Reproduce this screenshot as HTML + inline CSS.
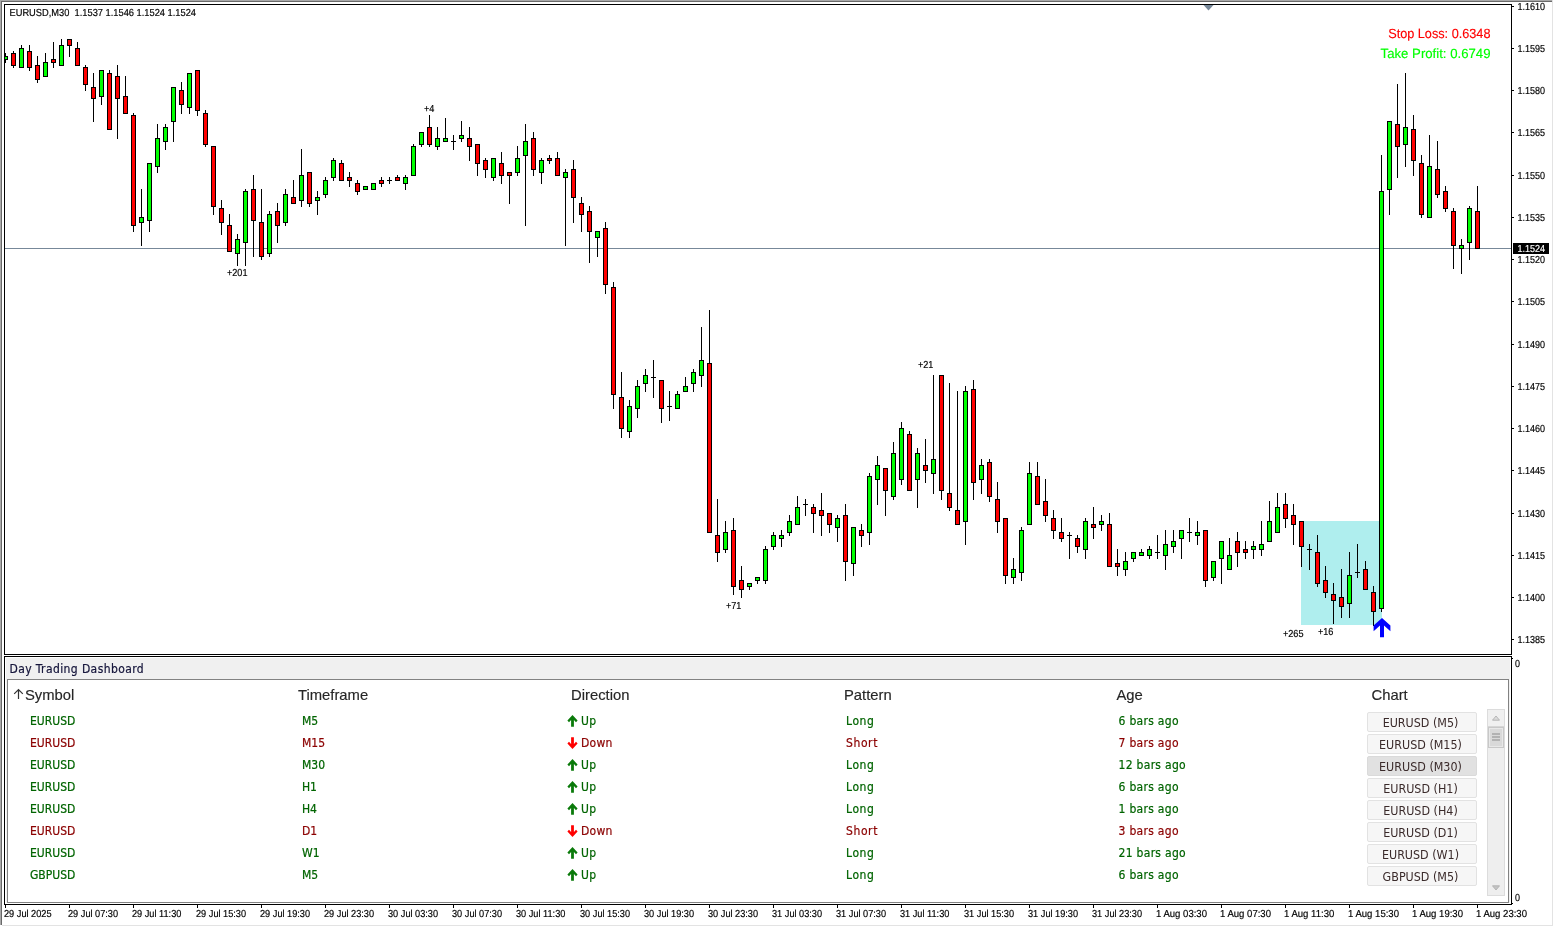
<!DOCTYPE html><html><head><meta charset="utf-8"><title>EURUSD,M30 - Day Trading Dashboard</title><style>
html,body{margin:0;padding:0;background:#fff;}
body{width:1554px;height:927px;position:relative;overflow:hidden;font-family:"Liberation Sans",Arial,sans-serif;}
.title{position:absolute;left:9.5px;top:660px;letter-spacing:0.4px;font:12px/18px "DejaVu Sans Condensed","Liberation Sans",sans-serif;color:#14143a;white-space:nowrap;-webkit-text-stroke:0.2px currentColor;}
.hd{position:absolute;top:685px;font:14.8px/20px "Liberation Sans",Arial,sans-serif;color:#262626;white-space:nowrap;-webkit-text-stroke:0.15px currentColor;}
.sortarrow{position:absolute;left:13px;top:688px;}
.row{position:absolute;left:0;height:20px;width:1360px;font:12px/20px "DejaVu Sans Condensed","Liberation Sans",sans-serif;white-space:nowrap;}
.row span{position:absolute;top:-1.5px;-webkit-text-stroke:0.2px currentColor;}
.row.g{color:#006400}.row.r{color:#8b0000}
.ar{position:absolute;left:0;top:4px}
.btn{position:absolute;left:1367px;width:110px;height:20px;border:1px solid #e2e2e2;border-radius:2px;background:#f6f6f6;box-sizing:border-box;padding-right:3px;
 font:12.4px/20px "DejaVu Sans Condensed","Liberation Sans",sans-serif;color:#3a2a2a;text-align:center;white-space:nowrap;}
.btn.sel{background:#e1e1e1;border-color:#dadada}
.sb{position:absolute;left:1487px;top:709px;width:16px;height:185px;background:#eeeeee;border:1px solid #dcdcdc;box-sizing:content-box}
.sbu{position:absolute;left:0;top:0;width:16px;height:16px;background:#f0f0f0;border-bottom:1px solid #d6d6d6}
.sbd{position:absolute;left:0;bottom:0;width:16px;height:16px;}
.sbu svg,.sbd svg{position:absolute;left:4px;top:5px}
.sbd svg{top:6px}
.sbt{position:absolute;left:0px;top:17px;width:14px;height:19px;background:#d9d9d9;border:1px solid #c8c8c8;box-shadow:inset 0 0 0 1px #e8e8e8}
.sbt i{display:block;margin:1px 3px 0 3px;height:2px;background:#b2b2b2;}
.sbt i:first-child{margin-top:5px}
</style></head><body><svg width="1554" height="927" viewBox="0 0 1554 927" shape-rendering="crispEdges" style="position:absolute;left:0;top:0"><rect x="0" y="0" width="1554" height="927" fill="#fff"/><rect x="0" y="0" width="1552" height="1" fill="#a9a9a9"/><rect x="0" y="1" width="1552" height="1" fill="#696969"/><rect x="0" y="0" width="1" height="925" fill="#a9a9a9"/><rect x="1" y="1" width="1" height="924" fill="#696969"/><rect x="1552" y="0" width="1" height="925" fill="#e3e3e3"/><rect x="2" y="925" width="1551" height="1" fill="#e3e3e3"/><rect x="1301" y="521" width="81" height="104" fill="#afeeee"/><rect x="5" y="248" width="1506" height="1" fill="#778899"/><rect x="5" y="53" width="1" height="10" fill="#000"/><rect x="3" y="56" width="5" height="4" fill="#000"/><rect x="4" y="57" width="3" height="2" fill="#00ff00"/><rect x="13" y="51" width="1" height="17" fill="#000"/><rect x="11" y="53" width="5" height="13" fill="#000"/><rect x="12" y="54" width="3" height="11" fill="#ff0000"/><rect x="21" y="45" width="1" height="23" fill="#000"/><rect x="19" y="48" width="5" height="20" fill="#000"/><rect x="20" y="49" width="3" height="18" fill="#00ff00"/><rect x="29" y="45" width="1" height="26" fill="#000"/><rect x="27" y="51" width="5" height="17" fill="#000"/><rect x="28" y="52" width="3" height="15" fill="#ff0000"/><rect x="37" y="56" width="1" height="27" fill="#000"/><rect x="35" y="65" width="5" height="15" fill="#000"/><rect x="36" y="66" width="3" height="13" fill="#ff0000"/><rect x="45" y="53" width="1" height="24" fill="#000"/><rect x="43" y="62" width="5" height="15" fill="#000"/><rect x="44" y="63" width="3" height="13" fill="#00ff00"/><rect x="53" y="42" width="1" height="26" fill="#000"/><rect x="51" y="59" width="5" height="4" fill="#000"/><rect x="52" y="60" width="3" height="2" fill="#ff0000"/><rect x="61" y="39" width="1" height="27" fill="#000"/><rect x="59" y="45" width="5" height="21" fill="#000"/><rect x="60" y="46" width="3" height="19" fill="#00ff00"/><rect x="69" y="39" width="1" height="18" fill="#000"/><rect x="67" y="39" width="5" height="7" fill="#000"/><rect x="68" y="40" width="3" height="5" fill="#ff0000"/><rect x="77" y="42" width="1" height="24" fill="#000"/><rect x="75" y="48" width="5" height="18" fill="#000"/><rect x="76" y="49" width="3" height="16" fill="#ff0000"/><rect x="85" y="65" width="1" height="26" fill="#000"/><rect x="83" y="67" width="5" height="18" fill="#000"/><rect x="84" y="68" width="3" height="16" fill="#ff0000"/><rect x="93" y="73" width="1" height="49" fill="#000"/><rect x="91" y="87" width="5" height="12" fill="#000"/><rect x="92" y="88" width="3" height="10" fill="#ff0000"/><rect x="101" y="70" width="1" height="35" fill="#000"/><rect x="99" y="70" width="5" height="27" fill="#000"/><rect x="100" y="71" width="3" height="25" fill="#00ff00"/><rect x="109" y="70" width="1" height="60" fill="#000"/><rect x="107" y="73" width="5" height="57" fill="#000"/><rect x="108" y="74" width="3" height="55" fill="#ff0000"/><rect x="117" y="65" width="1" height="74" fill="#000"/><rect x="115" y="76" width="5" height="23" fill="#000"/><rect x="116" y="77" width="3" height="21" fill="#ff0000"/><rect x="125" y="76" width="1" height="38" fill="#000"/><rect x="123" y="96" width="5" height="18" fill="#000"/><rect x="124" y="97" width="3" height="16" fill="#ff0000"/><rect x="133" y="113" width="1" height="119" fill="#000"/><rect x="131" y="115" width="5" height="111" fill="#000"/><rect x="132" y="116" width="3" height="109" fill="#ff0000"/><rect x="141" y="189" width="1" height="57" fill="#000"/><rect x="139" y="217" width="5" height="6" fill="#000"/><rect x="140" y="218" width="3" height="4" fill="#00ff00"/><rect x="149" y="163" width="1" height="69" fill="#000"/><rect x="147" y="163" width="5" height="58" fill="#000"/><rect x="148" y="164" width="3" height="56" fill="#00ff00"/><rect x="157" y="124" width="1" height="49" fill="#000"/><rect x="155" y="138" width="5" height="29" fill="#000"/><rect x="156" y="139" width="3" height="27" fill="#00ff00"/><rect x="165" y="124" width="1" height="26" fill="#000"/><rect x="163" y="127" width="5" height="15" fill="#000"/><rect x="164" y="128" width="3" height="13" fill="#00ff00"/><rect x="173" y="87" width="1" height="55" fill="#000"/><rect x="171" y="87" width="5" height="35" fill="#000"/><rect x="172" y="88" width="3" height="33" fill="#00ff00"/><rect x="181" y="82" width="1" height="32" fill="#000"/><rect x="179" y="90" width="5" height="15" fill="#000"/><rect x="180" y="91" width="3" height="13" fill="#ff0000"/><rect x="189" y="73" width="1" height="41" fill="#000"/><rect x="187" y="73" width="5" height="35" fill="#000"/><rect x="188" y="74" width="3" height="33" fill="#00ff00"/><rect x="197" y="70" width="1" height="46" fill="#000"/><rect x="195" y="70" width="5" height="41" fill="#000"/><rect x="196" y="71" width="3" height="39" fill="#ff0000"/><rect x="205" y="110" width="1" height="37" fill="#000"/><rect x="203" y="113" width="5" height="32" fill="#000"/><rect x="204" y="114" width="3" height="30" fill="#ff0000"/><rect x="213" y="146" width="1" height="69" fill="#000"/><rect x="211" y="146" width="5" height="61" fill="#000"/><rect x="212" y="147" width="3" height="59" fill="#ff0000"/><rect x="221" y="200" width="1" height="35" fill="#000"/><rect x="219" y="208" width="5" height="15" fill="#000"/><rect x="220" y="209" width="3" height="13" fill="#ff0000"/><rect x="229" y="214" width="1" height="38" fill="#000"/><rect x="227" y="225" width="5" height="27" fill="#000"/><rect x="228" y="226" width="3" height="25" fill="#ff0000"/><rect x="237" y="234" width="1" height="32" fill="#000"/><rect x="235" y="239" width="5" height="15" fill="#000"/><rect x="236" y="240" width="3" height="13" fill="#00ff00"/><rect x="245" y="189" width="1" height="77" fill="#000"/><rect x="243" y="191" width="5" height="52" fill="#000"/><rect x="244" y="192" width="3" height="50" fill="#00ff00"/><rect x="253" y="175" width="1" height="82" fill="#000"/><rect x="251" y="189" width="5" height="32" fill="#000"/><rect x="252" y="190" width="3" height="30" fill="#ff0000"/><rect x="261" y="189" width="1" height="71" fill="#000"/><rect x="259" y="222" width="5" height="35" fill="#000"/><rect x="260" y="223" width="3" height="33" fill="#ff0000"/><rect x="269" y="211" width="1" height="46" fill="#000"/><rect x="267" y="214" width="5" height="40" fill="#000"/><rect x="268" y="215" width="3" height="38" fill="#00ff00"/><rect x="277" y="203" width="1" height="40" fill="#000"/><rect x="275" y="211" width="5" height="15" fill="#000"/><rect x="276" y="212" width="3" height="13" fill="#ff0000"/><rect x="285" y="189" width="1" height="37" fill="#000"/><rect x="283" y="194" width="5" height="29" fill="#000"/><rect x="284" y="195" width="3" height="27" fill="#00ff00"/><rect x="293" y="180" width="1" height="24" fill="#000"/><rect x="291" y="197" width="5" height="7" fill="#000"/><rect x="292" y="198" width="3" height="5" fill="#ff0000"/><rect x="301" y="149" width="1" height="58" fill="#000"/><rect x="299" y="175" width="5" height="26" fill="#000"/><rect x="300" y="176" width="3" height="24" fill="#00ff00"/><rect x="309" y="172" width="1" height="35" fill="#000"/><rect x="307" y="172" width="5" height="32" fill="#000"/><rect x="308" y="173" width="3" height="30" fill="#ff0000"/><rect x="317" y="191" width="1" height="24" fill="#000"/><rect x="315" y="197" width="5" height="4" fill="#000"/><rect x="316" y="198" width="3" height="2" fill="#00ff00"/><rect x="325" y="177" width="1" height="21" fill="#000"/><rect x="323" y="180" width="5" height="15" fill="#000"/><rect x="324" y="181" width="3" height="13" fill="#00ff00"/><rect x="333" y="158" width="1" height="23" fill="#000"/><rect x="331" y="160" width="5" height="18" fill="#000"/><rect x="332" y="161" width="3" height="16" fill="#00ff00"/><rect x="341" y="160" width="1" height="21" fill="#000"/><rect x="339" y="163" width="5" height="18" fill="#000"/><rect x="340" y="164" width="3" height="16" fill="#ff0000"/><rect x="349" y="172" width="1" height="15" fill="#000"/><rect x="347" y="177" width="5" height="4" fill="#000"/><rect x="348" y="178" width="3" height="2" fill="#ff0000"/><rect x="357" y="180" width="1" height="15" fill="#000"/><rect x="355" y="183" width="5" height="9" fill="#000"/><rect x="356" y="184" width="3" height="7" fill="#ff0000"/><rect x="365" y="186" width="1" height="4" fill="#000"/><rect x="363" y="186" width="5" height="4" fill="#000"/><rect x="364" y="187" width="3" height="2" fill="#00ff00"/><rect x="373" y="183" width="1" height="7" fill="#000"/><rect x="371" y="183" width="5" height="7" fill="#000"/><rect x="372" y="184" width="3" height="5" fill="#00ff00"/><rect x="381" y="177" width="1" height="10" fill="#000"/><rect x="379" y="180" width="5" height="4" fill="#000"/><rect x="380" y="181" width="3" height="2" fill="#ff0000"/><rect x="389" y="177" width="1" height="7" fill="#000"/><rect x="387" y="180" width="5" height="1" fill="#000"/><rect x="397" y="175" width="1" height="6" fill="#000"/><rect x="395" y="177" width="5" height="4" fill="#000"/><rect x="396" y="178" width="3" height="2" fill="#ff0000"/><rect x="405" y="175" width="1" height="15" fill="#000"/><rect x="403" y="177" width="5" height="7" fill="#000"/><rect x="404" y="178" width="3" height="5" fill="#00ff00"/><rect x="413" y="144" width="1" height="32" fill="#000"/><rect x="411" y="146" width="5" height="30" fill="#000"/><rect x="412" y="147" width="3" height="28" fill="#00ff00"/><rect x="421" y="132" width="1" height="15" fill="#000"/><rect x="419" y="132" width="5" height="13" fill="#000"/><rect x="420" y="133" width="3" height="11" fill="#00ff00"/><rect x="429" y="115" width="1" height="32" fill="#000"/><rect x="427" y="127" width="5" height="18" fill="#000"/><rect x="428" y="128" width="3" height="16" fill="#ff0000"/><rect x="437" y="127" width="1" height="23" fill="#000"/><rect x="435" y="138" width="5" height="9" fill="#000"/><rect x="436" y="139" width="3" height="7" fill="#00ff00"/><rect x="445" y="118" width="1" height="24" fill="#000"/><rect x="443" y="138" width="5" height="4" fill="#000"/><rect x="444" y="139" width="3" height="2" fill="#00ff00"/><rect x="453" y="135" width="1" height="15" fill="#000"/><rect x="451" y="141" width="5" height="1" fill="#000"/><rect x="461" y="121" width="1" height="21" fill="#000"/><rect x="459" y="135" width="5" height="4" fill="#000"/><rect x="460" y="136" width="3" height="2" fill="#00ff00"/><rect x="469" y="127" width="1" height="34" fill="#000"/><rect x="467" y="138" width="5" height="9" fill="#000"/><rect x="468" y="139" width="3" height="7" fill="#ff0000"/><rect x="477" y="144" width="1" height="32" fill="#000"/><rect x="475" y="144" width="5" height="20" fill="#000"/><rect x="476" y="145" width="3" height="18" fill="#ff0000"/><rect x="485" y="158" width="1" height="20" fill="#000"/><rect x="483" y="160" width="5" height="10" fill="#000"/><rect x="484" y="161" width="3" height="8" fill="#ff0000"/><rect x="493" y="158" width="1" height="23" fill="#000"/><rect x="491" y="158" width="5" height="20" fill="#000"/><rect x="492" y="159" width="3" height="18" fill="#00ff00"/><rect x="501" y="152" width="1" height="32" fill="#000"/><rect x="499" y="163" width="5" height="13" fill="#000"/><rect x="500" y="164" width="3" height="11" fill="#ff0000"/><rect x="509" y="172" width="1" height="32" fill="#000"/><rect x="507" y="172" width="5" height="4" fill="#000"/><rect x="508" y="173" width="3" height="2" fill="#ff0000"/><rect x="517" y="146" width="1" height="30" fill="#000"/><rect x="515" y="158" width="5" height="15" fill="#000"/><rect x="516" y="159" width="3" height="13" fill="#00ff00"/><rect x="525" y="124" width="1" height="102" fill="#000"/><rect x="523" y="141" width="5" height="15" fill="#000"/><rect x="524" y="142" width="3" height="13" fill="#00ff00"/><rect x="533" y="132" width="1" height="44" fill="#000"/><rect x="531" y="138" width="5" height="32" fill="#000"/><rect x="532" y="139" width="3" height="30" fill="#ff0000"/><rect x="541" y="158" width="1" height="26" fill="#000"/><rect x="539" y="160" width="5" height="13" fill="#000"/><rect x="540" y="161" width="3" height="11" fill="#00ff00"/><rect x="549" y="155" width="1" height="9" fill="#000"/><rect x="547" y="158" width="5" height="3" fill="#000"/><rect x="548" y="159" width="3" height="1" fill="#ff0000"/><rect x="557" y="152" width="1" height="24" fill="#000"/><rect x="555" y="158" width="5" height="18" fill="#000"/><rect x="556" y="159" width="3" height="16" fill="#ff0000"/><rect x="565" y="169" width="1" height="77" fill="#000"/><rect x="563" y="172" width="5" height="6" fill="#000"/><rect x="564" y="173" width="3" height="4" fill="#00ff00"/><rect x="573" y="160" width="1" height="63" fill="#000"/><rect x="571" y="169" width="5" height="29" fill="#000"/><rect x="572" y="170" width="3" height="27" fill="#ff0000"/><rect x="581" y="197" width="1" height="35" fill="#000"/><rect x="579" y="203" width="5" height="12" fill="#000"/><rect x="580" y="204" width="3" height="10" fill="#ff0000"/><rect x="589" y="206" width="1" height="57" fill="#000"/><rect x="587" y="211" width="5" height="21" fill="#000"/><rect x="588" y="212" width="3" height="19" fill="#ff0000"/><rect x="597" y="231" width="1" height="26" fill="#000"/><rect x="595" y="231" width="5" height="7" fill="#000"/><rect x="596" y="232" width="3" height="5" fill="#00ff00"/><rect x="605" y="222" width="1" height="72" fill="#000"/><rect x="603" y="228" width="5" height="57" fill="#000"/><rect x="604" y="229" width="3" height="55" fill="#ff0000"/><rect x="613" y="282" width="1" height="127" fill="#000"/><rect x="611" y="287" width="5" height="108" fill="#000"/><rect x="612" y="288" width="3" height="106" fill="#ff0000"/><rect x="621" y="372" width="1" height="66" fill="#000"/><rect x="619" y="397" width="5" height="32" fill="#000"/><rect x="620" y="398" width="3" height="30" fill="#ff0000"/><rect x="629" y="400" width="1" height="38" fill="#000"/><rect x="627" y="406" width="5" height="26" fill="#000"/><rect x="628" y="407" width="3" height="24" fill="#00ff00"/><rect x="637" y="380" width="1" height="38" fill="#000"/><rect x="635" y="386" width="5" height="23" fill="#000"/><rect x="636" y="387" width="3" height="21" fill="#00ff00"/><rect x="645" y="369" width="1" height="23" fill="#000"/><rect x="643" y="375" width="5" height="9" fill="#000"/><rect x="644" y="376" width="3" height="7" fill="#00ff00"/><rect x="653" y="360" width="1" height="38" fill="#000"/><rect x="651" y="377" width="5" height="1" fill="#000"/><rect x="661" y="380" width="1" height="43" fill="#000"/><rect x="659" y="380" width="5" height="29" fill="#000"/><rect x="660" y="381" width="3" height="27" fill="#ff0000"/><rect x="669" y="391" width="1" height="30" fill="#000"/><rect x="667" y="406" width="5" height="1" fill="#000"/><rect x="677" y="391" width="1" height="18" fill="#000"/><rect x="675" y="394" width="5" height="15" fill="#000"/><rect x="676" y="395" width="3" height="13" fill="#00ff00"/><rect x="685" y="377" width="1" height="15" fill="#000"/><rect x="683" y="386" width="5" height="6" fill="#000"/><rect x="684" y="387" width="3" height="4" fill="#00ff00"/><rect x="693" y="369" width="1" height="23" fill="#000"/><rect x="691" y="372" width="5" height="12" fill="#000"/><rect x="692" y="373" width="3" height="10" fill="#00ff00"/><rect x="701" y="327" width="1" height="60" fill="#000"/><rect x="699" y="360" width="5" height="16" fill="#000"/><rect x="700" y="361" width="3" height="14" fill="#00ff00"/><rect x="709" y="310" width="1" height="223" fill="#000"/><rect x="707" y="363" width="5" height="170" fill="#000"/><rect x="708" y="364" width="3" height="168" fill="#ff0000"/><rect x="717" y="499" width="1" height="63" fill="#000"/><rect x="715" y="535" width="5" height="18" fill="#000"/><rect x="716" y="536" width="3" height="16" fill="#ff0000"/><rect x="725" y="521" width="1" height="32" fill="#000"/><rect x="723" y="532" width="5" height="18" fill="#000"/><rect x="724" y="533" width="3" height="16" fill="#00ff00"/><rect x="733" y="518" width="1" height="77" fill="#000"/><rect x="731" y="530" width="5" height="57" fill="#000"/><rect x="732" y="531" width="3" height="55" fill="#ff0000"/><rect x="741" y="566" width="1" height="32" fill="#000"/><rect x="739" y="580" width="5" height="10" fill="#000"/><rect x="740" y="581" width="3" height="8" fill="#ff0000"/><rect x="749" y="583" width="1" height="7" fill="#000"/><rect x="747" y="583" width="5" height="4" fill="#000"/><rect x="748" y="584" width="3" height="2" fill="#00ff00"/><rect x="757" y="577" width="1" height="7" fill="#000"/><rect x="755" y="577" width="5" height="4" fill="#000"/><rect x="756" y="578" width="3" height="2" fill="#00ff00"/><rect x="765" y="546" width="1" height="38" fill="#000"/><rect x="763" y="549" width="5" height="32" fill="#000"/><rect x="764" y="550" width="3" height="30" fill="#00ff00"/><rect x="773" y="532" width="1" height="18" fill="#000"/><rect x="771" y="535" width="5" height="12" fill="#000"/><rect x="772" y="536" width="3" height="10" fill="#00ff00"/><rect x="781" y="530" width="1" height="17" fill="#000"/><rect x="779" y="535" width="5" height="4" fill="#000"/><rect x="780" y="536" width="3" height="2" fill="#00ff00"/><rect x="789" y="515" width="1" height="21" fill="#000"/><rect x="787" y="521" width="5" height="12" fill="#000"/><rect x="788" y="522" width="3" height="10" fill="#00ff00"/><rect x="797" y="496" width="1" height="29" fill="#000"/><rect x="795" y="507" width="5" height="18" fill="#000"/><rect x="796" y="508" width="3" height="16" fill="#00ff00"/><rect x="805" y="499" width="1" height="17" fill="#000"/><rect x="803" y="504" width="5" height="1" fill="#000"/><rect x="813" y="504" width="1" height="29" fill="#000"/><rect x="811" y="507" width="5" height="7" fill="#000"/><rect x="812" y="508" width="3" height="5" fill="#ff0000"/><rect x="821" y="493" width="1" height="43" fill="#000"/><rect x="819" y="510" width="5" height="6" fill="#000"/><rect x="820" y="511" width="3" height="4" fill="#ff0000"/><rect x="829" y="513" width="1" height="20" fill="#000"/><rect x="827" y="513" width="5" height="12" fill="#000"/><rect x="828" y="514" width="3" height="10" fill="#ff0000"/><rect x="837" y="515" width="1" height="27" fill="#000"/><rect x="835" y="518" width="5" height="10" fill="#000"/><rect x="836" y="519" width="3" height="8" fill="#00ff00"/><rect x="845" y="504" width="1" height="77" fill="#000"/><rect x="843" y="515" width="5" height="47" fill="#000"/><rect x="844" y="516" width="3" height="45" fill="#ff0000"/><rect x="853" y="527" width="1" height="49" fill="#000"/><rect x="851" y="527" width="5" height="37" fill="#000"/><rect x="852" y="528" width="3" height="35" fill="#00ff00"/><rect x="861" y="524" width="1" height="23" fill="#000"/><rect x="859" y="530" width="5" height="6" fill="#000"/><rect x="860" y="531" width="3" height="4" fill="#ff0000"/><rect x="869" y="473" width="1" height="72" fill="#000"/><rect x="867" y="476" width="5" height="57" fill="#000"/><rect x="868" y="477" width="3" height="55" fill="#00ff00"/><rect x="877" y="456" width="1" height="49" fill="#000"/><rect x="875" y="465" width="5" height="15" fill="#000"/><rect x="876" y="466" width="3" height="13" fill="#00ff00"/><rect x="885" y="468" width="1" height="48" fill="#000"/><rect x="883" y="468" width="5" height="23" fill="#000"/><rect x="884" y="469" width="3" height="21" fill="#ff0000"/><rect x="893" y="442" width="1" height="58" fill="#000"/><rect x="891" y="453" width="5" height="44" fill="#000"/><rect x="892" y="454" width="3" height="42" fill="#00ff00"/><rect x="901" y="422" width="1" height="63" fill="#000"/><rect x="899" y="428" width="5" height="52" fill="#000"/><rect x="900" y="429" width="3" height="50" fill="#00ff00"/><rect x="909" y="431" width="1" height="60" fill="#000"/><rect x="907" y="434" width="5" height="57" fill="#000"/><rect x="908" y="435" width="3" height="55" fill="#ff0000"/><rect x="917" y="448" width="1" height="60" fill="#000"/><rect x="915" y="453" width="5" height="27" fill="#000"/><rect x="916" y="454" width="3" height="25" fill="#00ff00"/><rect x="925" y="439" width="1" height="44" fill="#000"/><rect x="923" y="465" width="5" height="6" fill="#000"/><rect x="924" y="466" width="3" height="4" fill="#ff0000"/><rect x="933" y="375" width="1" height="119" fill="#000"/><rect x="931" y="459" width="5" height="15" fill="#000"/><rect x="932" y="460" width="3" height="13" fill="#00ff00"/><rect x="941" y="375" width="1" height="125" fill="#000"/><rect x="939" y="375" width="5" height="116" fill="#000"/><rect x="940" y="376" width="3" height="114" fill="#ff0000"/><rect x="949" y="383" width="1" height="128" fill="#000"/><rect x="947" y="493" width="5" height="15" fill="#000"/><rect x="948" y="494" width="3" height="13" fill="#ff0000"/><rect x="957" y="391" width="1" height="134" fill="#000"/><rect x="955" y="510" width="5" height="15" fill="#000"/><rect x="956" y="511" width="3" height="13" fill="#ff0000"/><rect x="965" y="386" width="1" height="159" fill="#000"/><rect x="963" y="391" width="5" height="131" fill="#000"/><rect x="964" y="392" width="3" height="129" fill="#00ff00"/><rect x="973" y="380" width="1" height="120" fill="#000"/><rect x="971" y="389" width="5" height="94" fill="#000"/><rect x="972" y="390" width="3" height="92" fill="#ff0000"/><rect x="981" y="459" width="1" height="35" fill="#000"/><rect x="979" y="465" width="5" height="15" fill="#000"/><rect x="980" y="466" width="3" height="13" fill="#00ff00"/><rect x="989" y="459" width="1" height="43" fill="#000"/><rect x="987" y="462" width="5" height="35" fill="#000"/><rect x="988" y="463" width="3" height="33" fill="#ff0000"/><rect x="997" y="482" width="1" height="51" fill="#000"/><rect x="995" y="499" width="5" height="23" fill="#000"/><rect x="996" y="500" width="3" height="21" fill="#ff0000"/><rect x="1005" y="518" width="1" height="66" fill="#000"/><rect x="1003" y="518" width="5" height="58" fill="#000"/><rect x="1004" y="519" width="3" height="56" fill="#ff0000"/><rect x="1013" y="558" width="1" height="26" fill="#000"/><rect x="1011" y="569" width="5" height="9" fill="#000"/><rect x="1012" y="570" width="3" height="7" fill="#00ff00"/><rect x="1021" y="527" width="1" height="54" fill="#000"/><rect x="1019" y="530" width="5" height="43" fill="#000"/><rect x="1020" y="531" width="3" height="41" fill="#00ff00"/><rect x="1029" y="462" width="1" height="63" fill="#000"/><rect x="1027" y="473" width="5" height="52" fill="#000"/><rect x="1028" y="474" width="3" height="50" fill="#00ff00"/><rect x="1037" y="462" width="1" height="43" fill="#000"/><rect x="1035" y="476" width="5" height="29" fill="#000"/><rect x="1036" y="477" width="3" height="27" fill="#ff0000"/><rect x="1045" y="479" width="1" height="43" fill="#000"/><rect x="1043" y="501" width="5" height="15" fill="#000"/><rect x="1044" y="502" width="3" height="13" fill="#ff0000"/><rect x="1053" y="510" width="1" height="29" fill="#000"/><rect x="1051" y="518" width="5" height="13" fill="#000"/><rect x="1052" y="519" width="3" height="11" fill="#ff0000"/><rect x="1061" y="518" width="1" height="24" fill="#000"/><rect x="1059" y="532" width="5" height="7" fill="#000"/><rect x="1060" y="533" width="3" height="5" fill="#ff0000"/><rect x="1069" y="532" width="1" height="27" fill="#000"/><rect x="1067" y="535" width="5" height="1" fill="#000"/><rect x="1077" y="535" width="1" height="18" fill="#000"/><rect x="1075" y="538" width="5" height="9" fill="#000"/><rect x="1076" y="539" width="3" height="7" fill="#ff0000"/><rect x="1085" y="518" width="1" height="41" fill="#000"/><rect x="1083" y="521" width="5" height="29" fill="#000"/><rect x="1084" y="522" width="3" height="27" fill="#00ff00"/><rect x="1093" y="507" width="1" height="32" fill="#000"/><rect x="1091" y="524" width="5" height="4" fill="#000"/><rect x="1092" y="525" width="3" height="2" fill="#ff0000"/><rect x="1101" y="515" width="1" height="16" fill="#000"/><rect x="1099" y="521" width="5" height="4" fill="#000"/><rect x="1100" y="522" width="3" height="2" fill="#00ff00"/><rect x="1109" y="513" width="1" height="54" fill="#000"/><rect x="1107" y="524" width="5" height="43" fill="#000"/><rect x="1108" y="525" width="3" height="41" fill="#ff0000"/><rect x="1117" y="549" width="1" height="27" fill="#000"/><rect x="1115" y="563" width="5" height="4" fill="#000"/><rect x="1116" y="564" width="3" height="2" fill="#ff0000"/><rect x="1125" y="552" width="1" height="24" fill="#000"/><rect x="1123" y="561" width="5" height="9" fill="#000"/><rect x="1124" y="562" width="3" height="7" fill="#00ff00"/><rect x="1133" y="552" width="1" height="10" fill="#000"/><rect x="1131" y="552" width="5" height="7" fill="#000"/><rect x="1132" y="553" width="3" height="5" fill="#00ff00"/><rect x="1141" y="549" width="1" height="7" fill="#000"/><rect x="1139" y="552" width="5" height="4" fill="#000"/><rect x="1140" y="553" width="3" height="2" fill="#00ff00"/><rect x="1149" y="546" width="1" height="13" fill="#000"/><rect x="1147" y="549" width="5" height="7" fill="#000"/><rect x="1148" y="550" width="3" height="5" fill="#00ff00"/><rect x="1157" y="535" width="1" height="24" fill="#000"/><rect x="1155" y="552" width="5" height="1" fill="#000"/><rect x="1165" y="530" width="1" height="40" fill="#000"/><rect x="1163" y="544" width="5" height="12" fill="#000"/><rect x="1164" y="545" width="3" height="10" fill="#00ff00"/><rect x="1173" y="530" width="1" height="23" fill="#000"/><rect x="1171" y="541" width="5" height="6" fill="#000"/><rect x="1172" y="542" width="3" height="4" fill="#00ff00"/><rect x="1181" y="530" width="1" height="29" fill="#000"/><rect x="1179" y="530" width="5" height="9" fill="#000"/><rect x="1180" y="531" width="3" height="7" fill="#00ff00"/><rect x="1189" y="518" width="1" height="24" fill="#000"/><rect x="1187" y="532" width="5" height="1" fill="#000"/><rect x="1197" y="521" width="1" height="24" fill="#000"/><rect x="1195" y="532" width="5" height="4" fill="#000"/><rect x="1196" y="533" width="3" height="2" fill="#00ff00"/><rect x="1205" y="530" width="1" height="57" fill="#000"/><rect x="1203" y="530" width="5" height="51" fill="#000"/><rect x="1204" y="531" width="3" height="49" fill="#ff0000"/><rect x="1213" y="561" width="1" height="20" fill="#000"/><rect x="1211" y="561" width="5" height="17" fill="#000"/><rect x="1212" y="562" width="3" height="15" fill="#00ff00"/><rect x="1221" y="541" width="1" height="43" fill="#000"/><rect x="1219" y="541" width="5" height="18" fill="#000"/><rect x="1220" y="542" width="3" height="16" fill="#00ff00"/><rect x="1229" y="538" width="1" height="32" fill="#000"/><rect x="1227" y="555" width="5" height="15" fill="#000"/><rect x="1228" y="556" width="3" height="13" fill="#00ff00"/><rect x="1237" y="532" width="1" height="35" fill="#000"/><rect x="1235" y="541" width="5" height="12" fill="#000"/><rect x="1236" y="542" width="3" height="10" fill="#ff0000"/><rect x="1245" y="541" width="1" height="18" fill="#000"/><rect x="1243" y="549" width="5" height="4" fill="#000"/><rect x="1244" y="550" width="3" height="2" fill="#ff0000"/><rect x="1253" y="541" width="1" height="18" fill="#000"/><rect x="1251" y="546" width="5" height="4" fill="#000"/><rect x="1252" y="547" width="3" height="2" fill="#00ff00"/><rect x="1261" y="521" width="1" height="35" fill="#000"/><rect x="1259" y="544" width="5" height="6" fill="#000"/><rect x="1260" y="545" width="3" height="4" fill="#00ff00"/><rect x="1269" y="501" width="1" height="41" fill="#000"/><rect x="1267" y="521" width="5" height="21" fill="#000"/><rect x="1268" y="522" width="3" height="19" fill="#00ff00"/><rect x="1277" y="493" width="1" height="40" fill="#000"/><rect x="1275" y="507" width="5" height="26" fill="#000"/><rect x="1276" y="508" width="3" height="24" fill="#00ff00"/><rect x="1285" y="493" width="1" height="35" fill="#000"/><rect x="1283" y="504" width="5" height="15" fill="#000"/><rect x="1284" y="505" width="3" height="13" fill="#ff0000"/><rect x="1293" y="504" width="1" height="41" fill="#000"/><rect x="1291" y="515" width="5" height="10" fill="#000"/><rect x="1292" y="516" width="3" height="8" fill="#ff0000"/><rect x="1301" y="521" width="1" height="46" fill="#000"/><rect x="1299" y="521" width="5" height="26" fill="#000"/><rect x="1300" y="522" width="3" height="24" fill="#ff0000"/><rect x="1309" y="544" width="1" height="26" fill="#000"/><rect x="1307" y="549" width="5" height="1" fill="#000"/><rect x="1317" y="535" width="1" height="52" fill="#000"/><rect x="1315" y="552" width="5" height="32" fill="#000"/><rect x="1316" y="553" width="3" height="30" fill="#ff0000"/><rect x="1325" y="566" width="1" height="32" fill="#000"/><rect x="1323" y="580" width="5" height="13" fill="#000"/><rect x="1324" y="581" width="3" height="11" fill="#ff0000"/><rect x="1333" y="583" width="1" height="41" fill="#000"/><rect x="1331" y="594" width="5" height="7" fill="#000"/><rect x="1332" y="595" width="3" height="5" fill="#ff0000"/><rect x="1341" y="569" width="1" height="49" fill="#000"/><rect x="1339" y="597" width="5" height="10" fill="#000"/><rect x="1340" y="598" width="3" height="8" fill="#ff0000"/><rect x="1349" y="552" width="1" height="66" fill="#000"/><rect x="1347" y="575" width="5" height="29" fill="#000"/><rect x="1348" y="576" width="3" height="27" fill="#00ff00"/><rect x="1357" y="544" width="1" height="34" fill="#000"/><rect x="1355" y="572" width="5" height="1" fill="#000"/><rect x="1365" y="561" width="1" height="29" fill="#000"/><rect x="1363" y="569" width="5" height="21" fill="#000"/><rect x="1364" y="570" width="3" height="19" fill="#ff0000"/><rect x="1373" y="586" width="1" height="40" fill="#000"/><rect x="1371" y="592" width="5" height="20" fill="#000"/><rect x="1372" y="593" width="3" height="18" fill="#ff0000"/><rect x="1381" y="155" width="1" height="457" fill="#000"/><rect x="1379" y="191" width="5" height="418" fill="#000"/><rect x="1380" y="192" width="3" height="416" fill="#00ff00"/><rect x="1389" y="121" width="1" height="94" fill="#000"/><rect x="1387" y="121" width="5" height="69" fill="#000"/><rect x="1388" y="122" width="3" height="67" fill="#00ff00"/><rect x="1397" y="84" width="1" height="94" fill="#000"/><rect x="1395" y="124" width="5" height="23" fill="#000"/><rect x="1396" y="125" width="3" height="21" fill="#ff0000"/><rect x="1405" y="73" width="1" height="94" fill="#000"/><rect x="1403" y="127" width="5" height="18" fill="#000"/><rect x="1404" y="128" width="3" height="16" fill="#00ff00"/><rect x="1413" y="115" width="1" height="61" fill="#000"/><rect x="1411" y="129" width="5" height="32" fill="#000"/><rect x="1412" y="130" width="3" height="30" fill="#ff0000"/><rect x="1421" y="155" width="1" height="63" fill="#000"/><rect x="1419" y="163" width="5" height="52" fill="#000"/><rect x="1420" y="164" width="3" height="50" fill="#ff0000"/><rect x="1429" y="135" width="1" height="83" fill="#000"/><rect x="1427" y="166" width="5" height="52" fill="#000"/><rect x="1428" y="167" width="3" height="50" fill="#00ff00"/><rect x="1437" y="141" width="1" height="57" fill="#000"/><rect x="1435" y="169" width="5" height="26" fill="#000"/><rect x="1436" y="170" width="3" height="24" fill="#ff0000"/><rect x="1445" y="186" width="1" height="26" fill="#000"/><rect x="1443" y="191" width="5" height="18" fill="#000"/><rect x="1444" y="192" width="3" height="16" fill="#ff0000"/><rect x="1453" y="208" width="1" height="61" fill="#000"/><rect x="1451" y="211" width="5" height="35" fill="#000"/><rect x="1452" y="212" width="3" height="33" fill="#ff0000"/><rect x="1461" y="239" width="1" height="35" fill="#000"/><rect x="1459" y="245" width="5" height="4" fill="#000"/><rect x="1460" y="246" width="3" height="2" fill="#00ff00"/><rect x="1469" y="206" width="1" height="54" fill="#000"/><rect x="1467" y="208" width="5" height="35" fill="#000"/><rect x="1468" y="209" width="3" height="33" fill="#00ff00"/><rect x="1477" y="186" width="1" height="63" fill="#000"/><rect x="1475" y="211" width="5" height="38" fill="#000"/><rect x="1476" y="212" width="3" height="36" fill="#ff0000"/><rect x="4" y="4" width="1508" height="1" fill="#000"/><rect x="4" y="4" width="1" height="651" fill="#000"/><rect x="4" y="654" width="1508" height="1" fill="#000"/><rect x="1511" y="4" width="1" height="651" fill="#000"/><rect x="1511" y="656" width="1" height="249" fill="#000"/><rect x="2" y="5" width="2" height="649" fill="#fff"/><polygon points="1203.5,5 1213.5,5 1208.5,10.5" fill="#778899" shape-rendering="auto"/><rect x="4" y="656" width="1508" height="1" fill="#000"/><rect x="4" y="656" width="1" height="249" fill="#000"/><rect x="4" y="904" width="1508" height="1" fill="#000"/><rect x="6" y="658" width="1504" height="245" fill="#f0f0f0"/><rect x="7" y="679" width="1502" height="224" fill="#828282"/><rect x="8" y="680" width="1500" height="222" fill="#fff"/><rect x="1512" y="6" width="2" height="1" fill="#000"/><rect x="1512" y="48" width="2" height="1" fill="#000"/><rect x="1512" y="90" width="2" height="1" fill="#000"/><rect x="1512" y="132" width="2" height="1" fill="#000"/><rect x="1512" y="175" width="2" height="1" fill="#000"/><rect x="1512" y="217" width="2" height="1" fill="#000"/><rect x="1512" y="259" width="2" height="1" fill="#000"/><rect x="1512" y="301" width="2" height="1" fill="#000"/><rect x="1512" y="344" width="2" height="1" fill="#000"/><rect x="1512" y="386" width="2" height="1" fill="#000"/><rect x="1512" y="428" width="2" height="1" fill="#000"/><rect x="1512" y="470" width="2" height="1" fill="#000"/><rect x="1512" y="513" width="2" height="1" fill="#000"/><rect x="1512" y="555" width="2" height="1" fill="#000"/><rect x="1512" y="597" width="2" height="1" fill="#000"/><rect x="1512" y="639" width="2" height="1" fill="#000"/><rect x="1513" y="243" width="36" height="11" fill="#000"/><rect x="1512" y="658" width="1" height="1" fill="#000"/><rect x="1512" y="903" width="1" height="1" fill="#000"/><rect x="5" y="905" width="1" height="3" fill="#000"/><rect x="69" y="905" width="1" height="3" fill="#000"/><rect x="133" y="905" width="1" height="3" fill="#000"/><rect x="197" y="905" width="1" height="3" fill="#000"/><rect x="261" y="905" width="1" height="3" fill="#000"/><rect x="325" y="905" width="1" height="3" fill="#000"/><rect x="389" y="905" width="1" height="3" fill="#000"/><rect x="453" y="905" width="1" height="3" fill="#000"/><rect x="517" y="905" width="1" height="3" fill="#000"/><rect x="581" y="905" width="1" height="3" fill="#000"/><rect x="645" y="905" width="1" height="3" fill="#000"/><rect x="709" y="905" width="1" height="3" fill="#000"/><rect x="773" y="905" width="1" height="3" fill="#000"/><rect x="837" y="905" width="1" height="3" fill="#000"/><rect x="901" y="905" width="1" height="3" fill="#000"/><rect x="965" y="905" width="1" height="3" fill="#000"/><rect x="1029" y="905" width="1" height="3" fill="#000"/><rect x="1093" y="905" width="1" height="3" fill="#000"/><rect x="1157" y="905" width="1" height="3" fill="#000"/><rect x="1221" y="905" width="1" height="3" fill="#000"/><rect x="1285" y="905" width="1" height="3" fill="#000"/><rect x="1349" y="905" width="1" height="3" fill="#000"/><rect x="1413" y="905" width="1" height="3" fill="#000"/><rect x="1477" y="905" width="1" height="3" fill="#000"/><polygon points="1382,618 1390.4,625.6 1390.4,631.2 1384,625.4 1384,637.2 1380,637.2 1380,625.4 1373.6,631.2 1373.6,625.6" fill="#0000ff" shape-rendering="auto"/><g font-family="Liberation Sans, Arial, sans-serif" fill="#000" stroke="#000" stroke-width="0.18" text-rendering="geometricPrecision"><text x="1517.5" y="10" font-size="10.2" textLength="27.6" lengthAdjust="spacingAndGlyphs">1.1610</text><text x="1517.5" y="52" font-size="10.2" textLength="27.6" lengthAdjust="spacingAndGlyphs">1.1595</text><text x="1517.5" y="94" font-size="10.2" textLength="27.6" lengthAdjust="spacingAndGlyphs">1.1580</text><text x="1517.5" y="136" font-size="10.2" textLength="27.6" lengthAdjust="spacingAndGlyphs">1.1565</text><text x="1517.5" y="179" font-size="10.2" textLength="27.6" lengthAdjust="spacingAndGlyphs">1.1550</text><text x="1517.5" y="221" font-size="10.2" textLength="27.6" lengthAdjust="spacingAndGlyphs">1.1535</text><text x="1517.5" y="263" font-size="10.2" textLength="27.6" lengthAdjust="spacingAndGlyphs">1.1520</text><text x="1517.5" y="305" font-size="10.2" textLength="27.6" lengthAdjust="spacingAndGlyphs">1.1505</text><text x="1517.5" y="348" font-size="10.2" textLength="27.6" lengthAdjust="spacingAndGlyphs">1.1490</text><text x="1517.5" y="390" font-size="10.2" textLength="27.6" lengthAdjust="spacingAndGlyphs">1.1475</text><text x="1517.5" y="432" font-size="10.2" textLength="27.6" lengthAdjust="spacingAndGlyphs">1.1460</text><text x="1517.5" y="474" font-size="10.2" textLength="27.6" lengthAdjust="spacingAndGlyphs">1.1445</text><text x="1517.5" y="517" font-size="10.2" textLength="27.6" lengthAdjust="spacingAndGlyphs">1.1430</text><text x="1517.5" y="559" font-size="10.2" textLength="27.6" lengthAdjust="spacingAndGlyphs">1.1415</text><text x="1517.5" y="601" font-size="10.2" textLength="27.6" lengthAdjust="spacingAndGlyphs">1.1400</text><text x="1517.5" y="643" font-size="10.2" textLength="27.6" lengthAdjust="spacingAndGlyphs">1.1385</text><text x="1517.5" y="252" font-size="10.2" fill="#fff" stroke="#fff" textLength="27.6" lengthAdjust="spacingAndGlyphs">1.1524</text><text x="1515" y="667" font-size="10.2" textLength="5" lengthAdjust="spacingAndGlyphs">0</text><text x="1515" y="901" font-size="10.2" textLength="5" lengthAdjust="spacingAndGlyphs">0</text><text x="4" y="917" font-size="10.2" textLength="47.6" lengthAdjust="spacingAndGlyphs">29 Jul 2025</text><text x="68" y="917" font-size="10.2" textLength="50.1" lengthAdjust="spacingAndGlyphs">29 Jul 07:30</text><text x="132" y="917" font-size="10.2" textLength="49.4" lengthAdjust="spacingAndGlyphs">29 Jul 11:30</text><text x="196" y="917" font-size="10.2" textLength="50.1" lengthAdjust="spacingAndGlyphs">29 Jul 15:30</text><text x="260" y="917" font-size="10.2" textLength="50.1" lengthAdjust="spacingAndGlyphs">29 Jul 19:30</text><text x="324" y="917" font-size="10.2" textLength="50.1" lengthAdjust="spacingAndGlyphs">29 Jul 23:30</text><text x="388" y="917" font-size="10.2" textLength="50.1" lengthAdjust="spacingAndGlyphs">30 Jul 03:30</text><text x="452" y="917" font-size="10.2" textLength="50.1" lengthAdjust="spacingAndGlyphs">30 Jul 07:30</text><text x="516" y="917" font-size="10.2" textLength="49.4" lengthAdjust="spacingAndGlyphs">30 Jul 11:30</text><text x="580" y="917" font-size="10.2" textLength="50.1" lengthAdjust="spacingAndGlyphs">30 Jul 15:30</text><text x="644" y="917" font-size="10.2" textLength="50.1" lengthAdjust="spacingAndGlyphs">30 Jul 19:30</text><text x="708" y="917" font-size="10.2" textLength="50.1" lengthAdjust="spacingAndGlyphs">30 Jul 23:30</text><text x="772" y="917" font-size="10.2" textLength="50.1" lengthAdjust="spacingAndGlyphs">31 Jul 03:30</text><text x="836" y="917" font-size="10.2" textLength="50.1" lengthAdjust="spacingAndGlyphs">31 Jul 07:30</text><text x="900" y="917" font-size="10.2" textLength="49.4" lengthAdjust="spacingAndGlyphs">31 Jul 11:30</text><text x="964" y="917" font-size="10.2" textLength="50.1" lengthAdjust="spacingAndGlyphs">31 Jul 15:30</text><text x="1028" y="917" font-size="10.2" textLength="50.1" lengthAdjust="spacingAndGlyphs">31 Jul 19:30</text><text x="1092" y="917" font-size="10.2" textLength="50.1" lengthAdjust="spacingAndGlyphs">31 Jul 23:30</text><text x="1156" y="917" font-size="10.2" textLength="51.0" lengthAdjust="spacingAndGlyphs">1 Aug 03:30</text><text x="1220" y="917" font-size="10.2" textLength="51.0" lengthAdjust="spacingAndGlyphs">1 Aug 07:30</text><text x="1284" y="917" font-size="10.2" textLength="50.3" lengthAdjust="spacingAndGlyphs">1 Aug 11:30</text><text x="1348" y="917" font-size="10.2" textLength="51.0" lengthAdjust="spacingAndGlyphs">1 Aug 15:30</text><text x="1412" y="917" font-size="10.2" textLength="51.0" lengthAdjust="spacingAndGlyphs">1 Aug 19:30</text><text x="1476" y="917" font-size="10.2" textLength="51.0" lengthAdjust="spacingAndGlyphs">1 Aug 23:30</text><text x="9.5" y="16" font-size="10.2" textLength="186.5" lengthAdjust="spacingAndGlyphs" style="white-space:pre">EURUSD,M30  1.1537 1.1546 1.1524 1.1524</text><text x="227" y="276" font-size="10.2" textLength="20.5" lengthAdjust="spacingAndGlyphs">+201</text><text x="424" y="112" font-size="10.2" textLength="10.4" lengthAdjust="spacingAndGlyphs">+4</text><text x="726" y="609" font-size="10.2" textLength="15.4" lengthAdjust="spacingAndGlyphs">+71</text><text x="918" y="368" font-size="10.2" textLength="15.4" lengthAdjust="spacingAndGlyphs">+21</text><text x="1283" y="637" font-size="10.2" textLength="20.5" lengthAdjust="spacingAndGlyphs">+265</text><text x="1318" y="635" font-size="10.2" textLength="15.4" lengthAdjust="spacingAndGlyphs">+16</text><text x="1388.2" y="38" font-size="13.3" fill="#ff0000" stroke="#ff0000" stroke-width="0.15" textLength="102.3" lengthAdjust="spacingAndGlyphs">Stop Loss: 0.6348</text><text x="1380.6" y="58" font-size="13.3" fill="#00ff00" stroke="#00ff00" stroke-width="0.15" textLength="109.9" lengthAdjust="spacingAndGlyphs">Take Profit: 0.6749</text></g></svg><div class="title">Day Trading Dashboard</div><div class="hd" style="left:25px">Symbol</div><div class="hd" style="left:298px">Timeframe</div><div class="hd" style="left:571px">Direction</div><div class="hd" style="left:844px">Pattern</div><div class="hd" style="left:1116.5px">Age</div><div class="hd" style="left:1371.5px">Chart</div><svg class="sortarrow" width="12" height="12" viewBox="0 0 12 12"><path d="M5.5 11V1.5M1.2 5.8L5.5 1.5L9.8 5.8" fill="none" stroke="#333" stroke-width="1.2"/></svg><div class="row g" style="top:712px"><span style="left:30px">EURUSD</span><span style="left:302px">M5</span><span style="left:567px"><svg class="ar" width="11" height="12" viewBox="0 0 11 12"><path d="M5.5 0L10.6 5.6L9 7.2L6.9 5V11.8H4.1V5L2 7.2L0.4 5.6Z" fill="#0a7a0a"/></svg></span><span style="left:581px;letter-spacing:0.25px">Up</span><span style="left:846px;letter-spacing:0.6px">Long</span><span style="left:1118.5px;letter-spacing:0.3px">6 bars ago</span></div><div class="btn" style="top:712px">EURUSD (M5)</div><div class="row r" style="top:734px"><span style="left:30px">EURUSD</span><span style="left:302px">M15</span><span style="left:567px"><svg class="ar" width="11" height="12" viewBox="0 0 11 12"><path d="M5.5 12L10.6 6.4L9 4.8L6.9 7V0.2H4.1V7L2 4.8L0.4 6.4Z" fill="#ff0000"/></svg></span><span style="left:581px;letter-spacing:0.25px">Down</span><span style="left:846px;letter-spacing:0.6px">Short</span><span style="left:1118.5px;letter-spacing:0.3px">7 bars ago</span></div><div class="btn" style="top:734px">EURUSD (M15)</div><div class="row g" style="top:756px"><span style="left:30px">EURUSD</span><span style="left:302px">M30</span><span style="left:567px"><svg class="ar" width="11" height="12" viewBox="0 0 11 12"><path d="M5.5 0L10.6 5.6L9 7.2L6.9 5V11.8H4.1V5L2 7.2L0.4 5.6Z" fill="#0a7a0a"/></svg></span><span style="left:581px;letter-spacing:0.25px">Up</span><span style="left:846px;letter-spacing:0.6px">Long</span><span style="left:1118.5px;letter-spacing:0.3px">12 bars ago</span></div><div class="btn sel" style="top:756px">EURUSD (M30)</div><div class="row g" style="top:778px"><span style="left:30px">EURUSD</span><span style="left:302px">H1</span><span style="left:567px"><svg class="ar" width="11" height="12" viewBox="0 0 11 12"><path d="M5.5 0L10.6 5.6L9 7.2L6.9 5V11.8H4.1V5L2 7.2L0.4 5.6Z" fill="#0a7a0a"/></svg></span><span style="left:581px;letter-spacing:0.25px">Up</span><span style="left:846px;letter-spacing:0.6px">Long</span><span style="left:1118.5px;letter-spacing:0.3px">6 bars ago</span></div><div class="btn" style="top:778px">EURUSD (H1)</div><div class="row g" style="top:800px"><span style="left:30px">EURUSD</span><span style="left:302px">H4</span><span style="left:567px"><svg class="ar" width="11" height="12" viewBox="0 0 11 12"><path d="M5.5 0L10.6 5.6L9 7.2L6.9 5V11.8H4.1V5L2 7.2L0.4 5.6Z" fill="#0a7a0a"/></svg></span><span style="left:581px;letter-spacing:0.25px">Up</span><span style="left:846px;letter-spacing:0.6px">Long</span><span style="left:1118.5px;letter-spacing:0.3px">1 bars ago</span></div><div class="btn" style="top:800px">EURUSD (H4)</div><div class="row r" style="top:822px"><span style="left:30px">EURUSD</span><span style="left:302px">D1</span><span style="left:567px"><svg class="ar" width="11" height="12" viewBox="0 0 11 12"><path d="M5.5 12L10.6 6.4L9 4.8L6.9 7V0.2H4.1V7L2 4.8L0.4 6.4Z" fill="#ff0000"/></svg></span><span style="left:581px;letter-spacing:0.25px">Down</span><span style="left:846px;letter-spacing:0.6px">Short</span><span style="left:1118.5px;letter-spacing:0.3px">3 bars ago</span></div><div class="btn" style="top:822px">EURUSD (D1)</div><div class="row g" style="top:844px"><span style="left:30px">EURUSD</span><span style="left:302px">W1</span><span style="left:567px"><svg class="ar" width="11" height="12" viewBox="0 0 11 12"><path d="M5.5 0L10.6 5.6L9 7.2L6.9 5V11.8H4.1V5L2 7.2L0.4 5.6Z" fill="#0a7a0a"/></svg></span><span style="left:581px;letter-spacing:0.25px">Up</span><span style="left:846px;letter-spacing:0.6px">Long</span><span style="left:1118.5px;letter-spacing:0.3px">21 bars ago</span></div><div class="btn" style="top:844px">EURUSD (W1)</div><div class="row g" style="top:866px"><span style="left:30px">GBPUSD</span><span style="left:302px">M5</span><span style="left:567px"><svg class="ar" width="11" height="12" viewBox="0 0 11 12"><path d="M5.5 0L10.6 5.6L9 7.2L6.9 5V11.8H4.1V5L2 7.2L0.4 5.6Z" fill="#0a7a0a"/></svg></span><span style="left:581px;letter-spacing:0.25px">Up</span><span style="left:846px;letter-spacing:0.6px">Long</span><span style="left:1118.5px;letter-spacing:0.3px">6 bars ago</span></div><div class="btn" style="top:866px">GBPUSD (M5)</div><div class="sb"><div class="sbu"><svg width="8" height="6" viewBox="0 0 8 6"><path d="M0.5 5.2L4 1L7.5 5.2Z" fill="#dcdcdc" stroke="#b0b0b0" stroke-width="0.9"/></svg></div><div class="sbt"><i></i><i></i><i></i></div><div class="sbd"><svg width="8" height="6" viewBox="0 0 8 6"><path d="M0.5 0.8L4 5L7.5 0.8Z" fill="#c4c4c4" stroke="#b0b0b0" stroke-width="0.9"/></svg></div></div></body></html>
